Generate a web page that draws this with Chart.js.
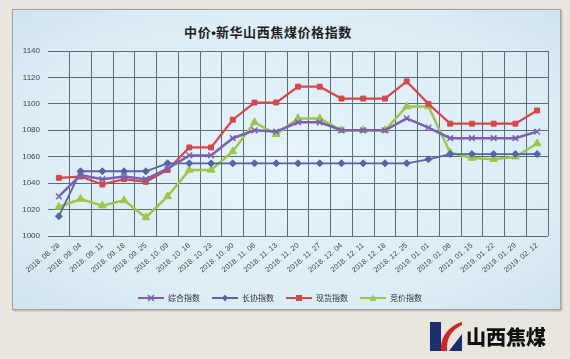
<!DOCTYPE html>
<html>
<head>
<meta charset="utf-8">
<script src="https://cdn.jsdelivr.net/npm/chart.js@4.4.1/dist/chart.umd.min.js"></script>
<style>
  html, body { margin: 0; padding: 0; }
  body { width: 570px; height: 359px; overflow: hidden; position: relative;
         background: #e9e6dd; font-family: "Noto Sans CJK SC", "Liberation Sans", sans-serif; }
  #panel { position: absolute; left: 12px; top: 9px; width: 547px; height: 299px;
           border: 1px solid #9aa3a6; box-shadow: 1px 1px 2px rgba(0,0,0,0.25);
           background: radial-gradient(ellipse at 50% 50%, #e6f3fa 0%, #dcedf6 70%, #cfe3ee 100%); }
  #title { position: absolute; left: 150px; width: 236px; top: 22px; text-align: center;
           font: bold 13px "Noto Sans CJK SC", sans-serif; color: #1e1e1e; letter-spacing: 0.6px; }
  #title .dot { font-family: "Liberation Sans", sans-serif; letter-spacing: 0; }
  #c { position: absolute; left: 0; top: 0; }
  #logoText { position: absolute; left: 466px; top: 325px; font: 900 20px "Noto Sans CJK SC", sans-serif;
              color: #111; letter-spacing: 0px; line-height: 24px; }
  #logoMark { position: absolute; left: 428px; top: 320px; }
</style>
</head>
<body>
<div id="panel"></div>
<div id="title">中价<span class="dot">•</span>新华山西焦煤价格指数</div>
<canvas id="c" width="570" height="359"></canvas>
<svg id="logoMark" width="36" height="32" viewBox="0 0 36 32">
  <polygon points="2,2 13,2 13,31 2,31" fill="#1c2f6e"/>
  <path d="M34,2 L34,5 C24,10 18,18 19,31 L13,31 C12,18 20,6 34,2 Z" fill="#d2232a"/>
  <polygon points="21,31 34,31 34,14 C27,18 22,24 21,31 Z" fill="#1c2f6e"/>
</svg>
<div id="logoText">山西焦煤</div>
<script>
const categories = ['2018. 08. 28','2018. 09. 04','2018. 09. 11','2018. 09. 18','2018. 09. 25',
  '2018. 10. 09','2018. 10. 16','2018. 10. 23','2018. 10. 30','2018. 11. 06','2018. 11. 13',
  '2018. 11. 20','2018. 11. 27','2018. 12. 04','2018. 12. 11','2018. 12. 18','2018. 12. 25',
  '2019. 01. 01','2019. 01. 08','2019. 01. 15','2019. 01. 22','2019. 01. 29','2019. 02. 12'];
const seriesNames = ['综合指数','长协指数','现货指数','竞价指数'];
const compositeIndex = [1030,1046,1043,1045,1043,1051,1061,1061,1074,1080,1079,1086,1086,1080,1080,1080,1089,1082,1074,1074,1074,1074,1079];
const contractIndex  = [1015,1049,1049,1049,1049,1055,1055,1055,1055,1055,1055,1055,1055,1055,1055,1055,1055,1058,1062,1062,1062,1062,1062];
const spotIndex      = [1044,1045,1039,1043,1041,1050,1067,1067,1088,1101,1101,1113,1113,1104,1104,1104,1117,1100,1085,1085,1085,1085,1095];
const bidIndex       = [1022,1028,1023,1027,1014,1030,1050,1050,1064,1086,1077,1089,1089,1080,1080,1080,1098,1098,1063,1059,1058,1060,1070];
const yTicks = { min: 1000, max: 1140, step: 20 };

const colors = ['#7a60b2', '#5563a8', '#d6474a', '#9bc74a'];
const markers = ['crossRot', 'rectRot', 'rect', 'triangle'];
const radii = [4, 3.5, 3.5, 4.5];
const widths = [2.5, 1.8, 2.2, 2.5];

function legendIcon(i) {
  const cv = document.createElement('canvas');
  cv.width = 26; cv.height = 10;
  const g = cv.getContext('2d');
  g.strokeStyle = colors[i]; g.fillStyle = colors[i]; g.lineWidth = 2;
  g.beginPath(); g.moveTo(0, 5); g.lineTo(26, 5); g.stroke();
  const cx = 13, cy = 5, r = 3;
  g.beginPath();
  if (i === 0) { g.lineWidth = 1.5; g.moveTo(cx-r,cy-r); g.lineTo(cx+r,cy+r); g.moveTo(cx+r,cy-r); g.lineTo(cx-r,cy+r); g.stroke(); }
  else if (i === 1) { g.moveTo(cx,cy-r-0.5); g.lineTo(cx+r,cy); g.lineTo(cx,cy+r+0.5); g.lineTo(cx-r,cy); g.closePath(); g.fill(); }
  else if (i === 2) { g.fillRect(cx-r,cy-r,2*r,2*r); }
  else { g.moveTo(cx,cy-r-0.5); g.lineTo(cx+r+0.5,cy+r); g.lineTo(cx-r-0.5,cy+r); g.closePath(); g.fill(); }
  return cv;
}

const dataArrays = [compositeIndex, contractIndex, spotIndex, bidIndex];
const datasets = dataArrays.map((d, i) => ({
  label: seriesNames[i],
  data: d,
  borderColor: colors[i],
  backgroundColor: colors[i],
  borderWidth: widths[i],
  pointStyle: markers[i],
  pointRadius: radii[i],
  pointBorderWidth: i === 0 ? 1.5 : 1,
  pointBorderColor: colors[i],
  pointBackgroundColor: colors[i],
  tension: 0,
  fill: false
}));

new Chart(document.getElementById('c'), {
  type: 'line',
  data: { labels: categories, datasets },
  options: {
    responsive: false,
    animation: false,
    layout: { padding: { left: 12, right: 22, top: 51, bottom: 47 } },
    plugins: {
      title: { display: false },
      tooltip: { enabled: false },
      legend: {
        position: 'bottom',
        labels: {
          usePointStyle: true,
          pointStyleWidth: 26,
          boxHeight: 8,
          padding: 12,
          color: '#333',
          font: { family: '"Noto Sans CJK SC", sans-serif', size: 8 },
          generateLabels: (chart) => chart.data.datasets.map((ds, i) => ({
            text: ds.label, pointStyle: legendIcon(i), datasetIndex: i,
            fillStyle: colors[i], strokeStyle: colors[i], lineWidth: 0, hidden: false, fontColor: '#333'
          }))
        }
      }
    },
    scales: {
      x: {
        offset: true,
        grid: { offset: true, color: (ctx) => ctx.index === 0 ? 'rgba(0,0,0,0)' : '#5a6d79', lineWidth: 1, drawTicks: false },
        border: { display: false },
        ticks: { minRotation: 40, maxRotation: 40, autoSkip: false, padding: 5, color: '#444',
                 font: { family: '"Liberation Sans", sans-serif', size: 7.5 } },
        afterFit: (s) => { s.height = 46; }
      },
      y: {
        min: yTicks.min, max: yTicks.max,
        grid: { color: '#5a6d79', lineWidth: 1, drawTicks: false },
        border: { display: false },
        ticks: { stepSize: yTicks.step, padding: 8, color: '#444',
                 font: { family: '"Liberation Sans", sans-serif', size: 8 },
                 callback: (v) => String(v) },
        afterFit: (s) => { s.width = 36; }
      }
    }
  }
});
</script>
</body>
</html>
